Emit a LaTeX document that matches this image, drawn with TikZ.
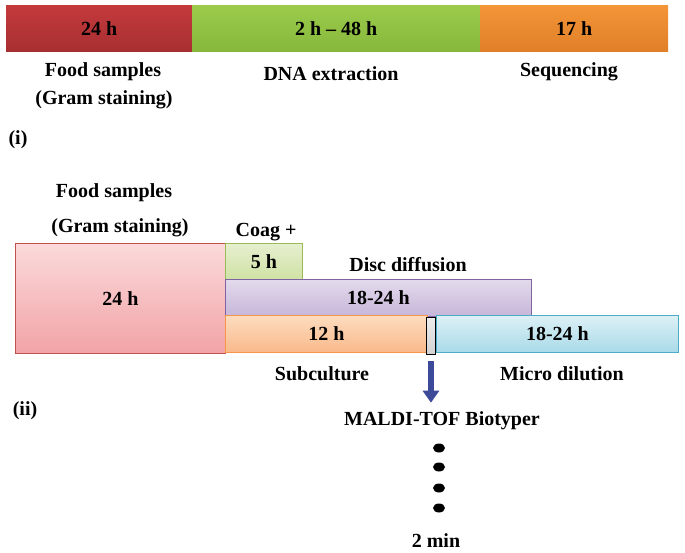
\documentclass[tikz,border=0pt]{standalone}
\usepackage{fontspec}
\setmainfont{Liberation Serif}
\usetikzlibrary{arrows.meta, shapes.geometric}
\definecolor{rougefonce}{HTML}{C43A3C}
\definecolor{rougebas}{HTML}{A82F31}
\definecolor{vertvif}{HTML}{9CCB4B}
\definecolor{vertbas}{HTML}{86B83C}
\definecolor{orangevif}{HTML}{F39538}
\definecolor{orangebas}{HTML}{E07F28}
\definecolor{roseclair}{HTML}{FBDADB}
\definecolor{rosebas}{HTML}{F2A3A6}
\definecolor{rosebord}{HTML}{C0504D}
\definecolor{vertclair}{HTML}{E6EFCF}
\definecolor{vertmoyen}{HTML}{CFE2A4}
\definecolor{vertbord}{HTML}{9BBB59}
\definecolor{violetclair}{HTML}{E3DAEC}
\definecolor{violetbas}{HTML}{C6B6D9}
\definecolor{violetbord}{HTML}{8064A2}
\definecolor{orangeclair}{HTML}{FDDCBF}
\definecolor{orangemoyen}{HTML}{F9B98A}
\definecolor{orangebord}{HTML}{F79646}
\definecolor{bleuclair}{HTML}{DDF0F6}
\definecolor{bleubas}{HTML}{A9DAE8}
\definecolor{bleubord}{HTML}{4BACC6}
\definecolor{flechebleu}{HTML}{3D4A9A}
\tikzset{
  texte/.style={font=\fontsize{20}{24}\selectfont\bfseries, inner sep=0pt},
  barre/.style={texte, rectangle, anchor=north west, minimum height=46pt},
  bloc/.style={texte, rectangle, anchor=north west, line width=0.9pt},
  point/.style={ellipse, fill=black, inner sep=0pt, minimum width=12pt, minimum height=9pt},
  fleche/.style={-{Triangle[width=16pt, length=12pt]}, line width=6.5pt, color=flechebleu},
}
\begin{document}
\begin{tikzpicture}[x=1pt, y=-1pt]
  \useasboundingbox (0,0) rectangle (685,553);

  % (i) chronologie par sequencage
  \node[barre, top color=rougefonce, bottom color=rougebas, minimum width=186pt] (culture) at (6,5) {24 h};
  \node[barre, top color=vertvif, bottom color=vertbas, minimum width=288pt] (extraction) at (192,5) {2 h -- 48 h};
  \node[barre, top color=orangevif, bottom color=orangebas, minimum width=188pt] (sequencage) at (480,5) {17 h};

  \node[texte] (echantillons) at (103,72) {Food samples};
  \node[texte] (gram) at (104,100) {(Gram staining)};
  \node[texte] (adn) at (331,74) {DNA extraction};
  \node[texte] (seq) at (569,72) {Sequencing};
  \node[texte] (i) at (18,140) {(i)};

  % (ii) chronologie classique
  \node[texte] (echantillons2) at (114,193) {Food samples};
  \node[texte] (gram2) at (120,228) {(Gram staining)};
  \node[texte] (coag) at (266,232) {Coag +};

  \node[bloc, top color=roseclair, bottom color=rosebas, draw=rosebord,
        minimum width=210pt, minimum height=110pt] (gram24) at (15,243) {24 h};
  \node[bloc, top color=vertclair, bottom color=vertmoyen, draw=vertbord,
        minimum width=77pt, minimum height=36pt] (coag5) at (225,243) {5 h};
  \node[texte] (disque) at (408,265) {Disc diffusion};
  \node[bloc, top color=violetclair, bottom color=violetbas, draw=violetbord,
        minimum width=306pt, minimum height=37pt] (diffusion) at (225,279) {18-24 h};
  \node[bloc, top color=orangeclair, bottom color=orangemoyen, draw=orangebord,
        minimum width=202pt, minimum height=37pt] (sousculture) at (225,315) {12 h};
  \node[bloc, top color=bleuclair, bottom color=bleubas, draw=bleubord,
        minimum width=242pt, minimum height=37pt] (microdil) at (436,315) {18-24 h};
  \node[bloc, top color=gray!15, bottom color=gray!35, draw=black,
        minimum width=9pt, minimum height=37pt] (maldi) at (426,317) {};

  \node[texte] (sub) at (322,374) {Subculture};
  \node[texte] (micro) at (562,374) {Micro dilution};
  \node[texte] (ii) at (25,411) {(ii)};
  \node[texte] (biotyper) at (442,421) {MALDI-TOF Biotyper};

  \draw[fleche, shorten <=6pt, shorten >=9pt] (maldi.south) -- (maldi.south |- biotyper.north);

  \foreach \y [count=\n] in {448,467,488,508}
    \node[point] (point\n) at (439,\y) {};

  \node[texte] (duree) at (436,541) {2 min};
\end{tikzpicture}
\end{document}
